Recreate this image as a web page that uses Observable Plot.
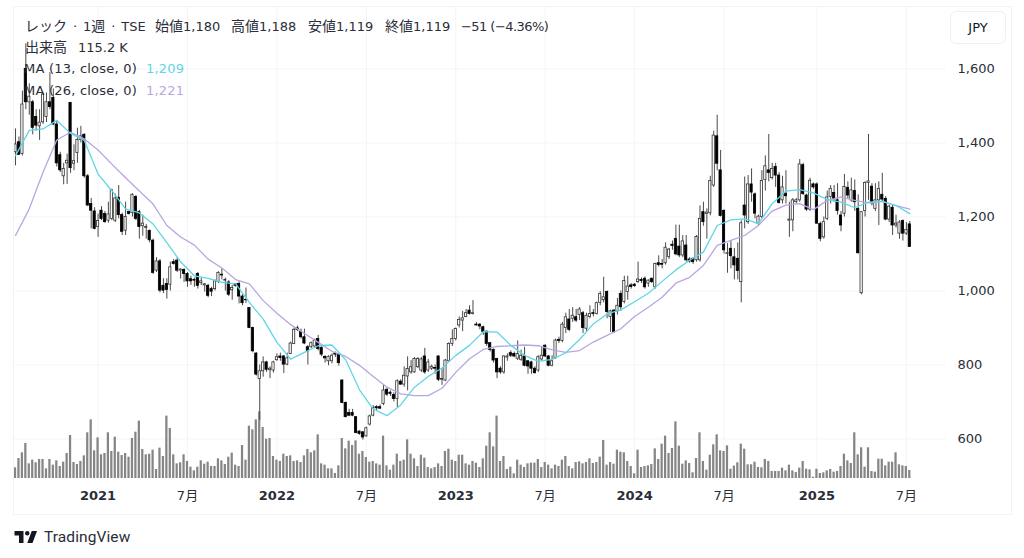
<!DOCTYPE html>
<html lang="ja">
<head>
<meta charset="utf-8">
<script src="https://cdn.jsdelivr.net/npm/d3@7"></script>
<script src="https://cdn.jsdelivr.net/npm/@observablehq/plot@0.6"></script>
<style>
html,body{margin:0;padding:0;background:#fff;width:1024px;height:558px;overflow:hidden}
#wrap{position:relative;width:1024px;height:558px;font-family:"DejaVu Sans","Noto Sans CJK JP",sans-serif;color:#131722}
#wrap svg.chart{position:absolute;left:0;top:0}
#frame{position:absolute;left:13px;top:6px;width:997px;height:507px;border:1px solid #f0f3fa;pointer-events:none}
.row{position:absolute;left:25px;font-size:13px;line-height:18px;white-space:pre;color:#2a2e39}
.row span{position:absolute;top:0}
.row b{font-weight:400;font-size:14px;font-family:"Noto Sans CJK JP",sans-serif}
.ma{letter-spacing:.22px}
#jpy{position:absolute;left:950px;top:11px;width:54px;height:31px;border:1px solid #eef0f4;border-radius:6px;font-size:13px;line-height:31px;text-align:center;background:#fff;color:#131722}
#logo{position:absolute;left:13px;top:528px;display:flex;align-items:center}
#logo i{font-style:normal;font-family:Roboto,sans-serif;font-size:15.5px;margin-left:4px;color:#2a2e39;letter-spacing:.1px}
</style>
</head>
<body>
<div id="wrap">
  <div id="chart"></div>
  <div id="frame"></div>
  <div class="row" style="top:16px;word-spacing:1.8px"><b>レック</b> · 1<b>週</b> · TSE<span style="left:130px"><b>始値</b>1,180</span><span style="left:206px"><b>高値</b>1,188</span><span style="left:283px"><b>安値</b>1,119</span><span style="left:360px"><b>終値</b>1,119</span><span style="left:436px;top:1.5px;letter-spacing:-.55px;word-spacing:0">−51 (−4.36%)</span></div>
  <div class="row" style="top:37px"><b>出来高</b><span style="left:53px;top:1.5px">115.2 K</span></div>
  <div class="row ma" style="top:60px;left:24px">MA (13, close, 0)<span style="left:122px;color:#5fd6e6">1,209</span></div>
  <div class="row ma" style="top:82px;left:24px">MA (26, close, 0)<span style="left:122px;color:#b9a5e2">1,221</span></div>
  <div id="jpy">JPY</div>
  <div id="logo">
    <svg width="27" height="18" viewBox="0 0 36 24"><path fill="#131722" d="M14 4H2v6h6v10h6V4Zm12 16h-7l6-16h7l-6 16Zm-7-10a3 3 0 1 0 0-6 3 3 0 0 0 0 6Z"/></svg>
    <i>TradingView</i>
  </div>
</div>
<script>
const firstWeek = "2020-07-20";
const futureWeeks = 10;

const opens = [
1375,1402,1370,1600,1510,1510,1470,1445,1456,1470,
1510,1522,1450,1367,1310,1345,1508,1344,1373,1408,
1422,1310,1235,1215,1173,1217,1208,1190,1195,1190,
1252,1205,1163,1214,1211,1254,1213,1175,1170,1162,
1136,1055,1080,1014,1019,1017,1078,1082,1055,1057,
1046,1032,1030,1046,1021,1015,1014,1005,1005,1024,
1044,1028,1023,1002,1018,1019,985,976,954,900,
831,762,783,807,786,785,813,823,823,801,
830,857,899,890,875,848,848,850,870,846,
822,810,810,831,827,758,697,670,670,659,
620,618,607,639,663,686,686,695,733,725,
719,708,755,747,769,780,780,794,785,823,
785,790,792,823,760,758,810,857,870,907,
920,930,947,938,909,909,902,890,859,841,
816,790,780,820,832,830,817,814,823,810,
807,790,785,815,852,823,798,819,868,865,
900,923,925,929,935,940,898,930,940,938,
968,975,997,930,947,945,992,970,997,1015,
1017,1024,1030,1033,1020,1033,1010,1075,1073,1075,
1092,1125,1141,1120,1096,1123,1085,1087,1083,1083,
1213,1208,1210,1285,1418,1326,1216,1100,1114,1091,
1087,1024,1231,1186,1288,1261,1182,1200,1300,1326,
1305,1335,1312,1245,1263,1190,1191,1240,1245,1340,
1258,1220,1288,1288,1181,1145,1195,1254,1265,1245,
1204,1209,1279,1245,1270,1222,994,1216,1292,1282,
1222,1245,1260,1249,1193,1225,1177,1155,1189,1155,
1180];
const highs = [
1438,1416,1540,1668,1560,1515,1490,1490,1535,1535,
1590,1546,1460,1375,1345,1370,1510,1395,1440,1445,
1425,1315,1250,1225,1208,1228,1215,1240,1275,1262,
1285,1210,1240,1215,1263,1258,1218,1205,1180,1165,
1140,1090,1085,1033,1033,1078,1085,1090,1060,1060,
1050,1040,1035,1050,1035,1020,1018,1010,1030,1052,
1060,1035,1028,1015,1020,1025,990,1008,955,902,
833,800,822,810,795,810,830,832,826,832,
862,900,905,897,897,852,862,870,880,850,
825,825,830,835,830,760,700,680,680,660,
622,620,632,665,690,690,692,745,738,730,
725,760,760,795,822,812,820,820,820,845,
815,800,800,825,790,815,860,895,900,930,
945,950,960,974,915,912,905,892,860,843,
818,795,825,830,838,835,865,840,848,812,
810,795,825,850,855,826,825,870,875,915,
940,950,955,950,955,945,940,960,950,970,
998,1037,1000,948,950,980,1000,1040,1040,1020,
1020,1078,1035,1038,1030,1035,1075,1095,1085,1130,
1115,1135,1178,1178,1150,1150,1090,1090,1150,1230,
1240,1222,1310,1432,1475,1380,1220,1128,1135,1115,
1130,1190,1308,1312,1330,1265,1205,1325,1365,1423,
1345,1345,1320,1310,1325,1240,1250,1250,1355,1345,
1262,1305,1292,1292,1186,1200,1270,1285,1285,1290,
1215,1315,1295,1305,1300,1260,1215,1295,1423,1290,
1290,1295,1318,1255,1232,1232,1205,1190,1192,1185,
1188];
const lows = [
1338,1366,1365,1490,1475,1422,1432,1407,1450,1455,
1490,1447,1335,1320,1287,1288,1318,1325,1345,1400,
1305,1228,1168,1165,1145,1190,1183,1183,1190,1185,
1195,1150,1150,1205,1200,1190,1140,1148,1140,1130,
1045,1050,995,993,978,1000,1070,1050,1032,1023,
1010,1015,1010,1005,1015,997,982,985,1000,1020,
1030,1000,985,975,1010,965,960,966,898,833,
770,650,767,780,763,778,810,810,777,798,
828,855,890,870,855,800,845,845,838,822,
805,798,803,820,797,695,657,660,660,614,
610,597,605,635,660,675,680,690,715,715,
700,685,745,740,730,775,778,790,780,775,
780,785,775,755,745,755,808,850,865,900,
890,928,935,935,905,895,880,850,835,805,
763,775,775,810,820,820,812,810,795,775,
775,775,780,810,820,795,795,815,858,860,
885,890,915,915,920,885,890,925,930,935,
960,968,925,888,885,935,945,965,975,1005,
1010,1020,1020,1005,1010,1020,1005,1065,1060,1070,
1085,1110,1095,1090,1090,1078,1075,1072,1078,1078,
1175,1140,1203,1280,1325,1200,1100,1048,1060,1030,
1030,968,1168,1180,1240,1195,1175,1195,1270,1295,
1300,1280,1235,1235,1235,1145,1160,1235,1240,1258,
1215,1215,1275,1180,1133,1140,1190,1235,1240,1205,
1160,1200,1250,1240,1215,1100,990,1200,1245,1230,
1215,1177,1240,1190,1185,1150,1170,1140,1135,1150,
1119];
const closes = [
1396,1368,1504,1510,1525,1441,1447,1455,1531,1510,
1497,1450,1345,1326,1330,1352,1332,1351,1408,1418,
1310,1231,1217,1168,1189,1195,1186,1207,1272,1250,
1205,1160,1200,1208,1260,1195,1173,1182,1173,1137,
1049,1080,1001,1001,1003,1064,1073,1055,1058,1046,
1026,1026,1028,1014,1026,1018,987,998,1026,1049,
1042,1030,990,1008,1014,985,967,975,900,837,
774,783,807,787,790,807,821,819,801,818,
858,895,895,875,858,837,859,866,843,828,
818,822,825,828,805,697,659,663,663,616,
614,604,629,661,684,683,682,731,720,722,
708,756,747,771,789,794,816,816,815,780,
807,795,790,760,762,812,857,870,897,922,
926,940,938,940,907,904,889,857,841,812,
780,780,823,823,825,823,830,825,798,796,
790,778,821,825,823,798,810,866,865,909,
929,895,933,920,950,900,933,938,938,967,
992,983,943,945,889,960,956,1027,1012,1011,
1013,1031,1027,1010,1028,1024,1073,1070,1071,1117,
1112,1122,1099,1096,1134,1083,1080,1078,1146,1195,
1186,1212,1297,1420,1344,1203,1110,1102,1094,1069,
1054,1183,1204,1288,1266,1209,1201,1297,1337,1319,
1330,1312,1238,1280,1256,1193,1245,1245,1342,1262,
1220,1298,1280,1182,1141,1186,1253,1276,1249,1216,
1177,1281,1258,1272,1240,1102,1213,1292,1296,1237,
1245,1276,1247,1193,1228,1177,1182,1185,1155,1165,
1119];
// weekly volume, thousands of shares
const volumes = [
154,288,370,504,211,264,226,274,274,139,
274,192,254,173,235,360,619,230,202,245,
326,658,845,398,586,341,360,658,389,595,
379,331,360,307,576,667,826,418,341,350,
408,130,437,317,898,720,341,211,226,341,
245,163,110,163,254,206,235,173,173,283,
254,202,307,365,192,173,475,264,754,701,
845,960,734,566,576,317,264,245,350,317,
326,245,254,230,326,418,370,398,629,211,
192,139,139,72,182,576,427,538,475,542,
350,389,302,235,245,211,192,610,182,120,
192,350,245,264,557,350,283,173,336,293,
158,139,158,211,173,389,422,264,245,336,
336,211,192,245,221,158,283,466,658,456,
898,245,317,130,163,67,264,192,158,211,
221,221,274,158,230,192,139,192,173,264,
317,173,139,230,240,211,230,283,216,230,
307,547,192,230,206,408,379,370,245,173,
67,408,158,173,182,202,427,274,494,610,
360,432,816,466,206,254,216,82,288,658,
245,120,336,485,629,398,389,470,134,178,
226,494,422,197,197,235,158,154,274,245,
101,101,101,149,110,192,110,86,149,245,
134,125,19,134,72,82,110,130,91,101,
173,350,254,216,658,341,442,163,442,101,
91,278,278,182,235,235,370,197,182,173,
115.2];
// moving averages read every fourth week
const maStep = 4;
const ma13 = [1366,1434,1438,1461,1426,1407,1316,1271,1222,1211,1181,1131,1079,1041,1034,1023,1019,969,924,861,816,834,852,854,814,733,681,663,692,740,769,792,826,853,890,889,853,826,810,815,833,869,911,938,949,971,994,1026,1057,1083,1105,1177,1192,1195,1182,1236,1270,1274,1265,1247,1240,1225,1240,1242,1231,1209];
const ma26 = [1150,1222,1321,1408,1429,1411,1381,1343,1306,1270,1235,1177,1146,1124,1086,1062,1031,1019,974,940,909,885,861,837,823,799,769,740,722,717,717,737,780,817,842,850,852,854,852,841,834,839,862,880,898,931,956,983,1021,1037,1069,1123,1137,1150,1177,1216,1232,1236,1220,1245,1254,1245,1238,1242,1231,1221];

const priceTicks = [600,800,1000,1200,1400,1600];
const yearTicks = ["2021-01-04","2022-01-03","2023-01-02","2024-01-01","2025-01-06"];
const yearLabels = ["2021","2022","2023","2024","2025"];
const julyTicks = ["2021-07-05","2022-07-04","2023-07-03","2024-07-01","2025-07-07"];

const weekAt = k => d3.utcDay.offset(new Date(firstWeek + "T00:00:00Z"), 7 * k).toISOString().slice(0, 10);
const weeks = d3.range(opens.length + futureWeeks).map(weekAt);
const candles = opens.map((o, k) => ({week: weeks[k], o, h: highs[k], l: lows[k], c: closes[k], v: volumes[k]}));
const line13 = ma13.map((v, k) => ({week: weeks[k * maStep], v}));
const line26 = ma26.map((v, k) => ({week: weeks[k * maStep], v}));

const priceBottom = 493.2, priceTop = 1768.9;
const volumeToPrice = 0.1877;
const grid = "#f3f4f6", ink = "#2a2e39";
const up = d => d.c >= d.o;

const chart = Plot.plot({
  width: 1024, height: 558,
  marginLeft: 12.7, marginRight: 78, marginTop: 6, marginBottom: 80,
  style: {background: "transparent", fontFamily: '"DejaVu Sans","Noto Sans CJK JP",sans-serif', overflow: "visible"},
  x: {type: "band", domain: weeks, padding: 0.35, round: false},
  y: {domain: [priceBottom, priceTop]},
  marks: [
    Plot.ruleY(priceTicks, {stroke: grid}),
    Plot.gridX(yearTicks.concat(julyTicks), {stroke: grid, strokeOpacity: 1}),
    Plot.barY(candles, {x: "week", y1: priceBottom, y2: d => priceBottom + d.v * volumeToPrice, fill: "#858585"}),
    Plot.ruleX(candles, {x: "week", y1: "l", y2: "h", stroke: "#4a4a4a", strokeWidth: 1}),
    Plot.barY(candles.filter(up), {x: "week", y1: "o", y2: "c", fill: "#fff", stroke: "#333", strokeWidth: 0.8}),
    Plot.barY(candles.filter(d => !up(d)), {x: "week", y1: "o", y2: "c", fill: "#000", stroke: "#000", strokeWidth: 0.8}),
    Plot.line(line26, {x: "week", y: "v", stroke: "#b9a5e2", strokeWidth: 1.3}),
    Plot.line(line13, {x: "week", y: "v", stroke: "#5fd6e6", strokeWidth: 1.3}),
    Plot.axisY({anchor: "right", ticks: priceTicks, tickSize: 0, tickPadding: 11, tickFormat: d3.format(","), label: null, fontSize: 13, fill: ink}),
    Plot.axisX({anchor: "bottom", ticks: yearTicks, tickSize: 0, tickPadding: 12, tickFormat: d => yearLabels[yearTicks.indexOf(d)], label: null, fontSize: 13, fontWeight: 600, fill: ink}),
    Plot.axisX({anchor: "bottom", ticks: julyTicks, tickSize: 0, tickPadding: 12, tickFormat: () => "7月", label: null, fontSize: 13, fill: ink})
  ]
});
chart.classList.add("chart");
document.getElementById("chart").append(chart);
</script>
</body>
</html>
